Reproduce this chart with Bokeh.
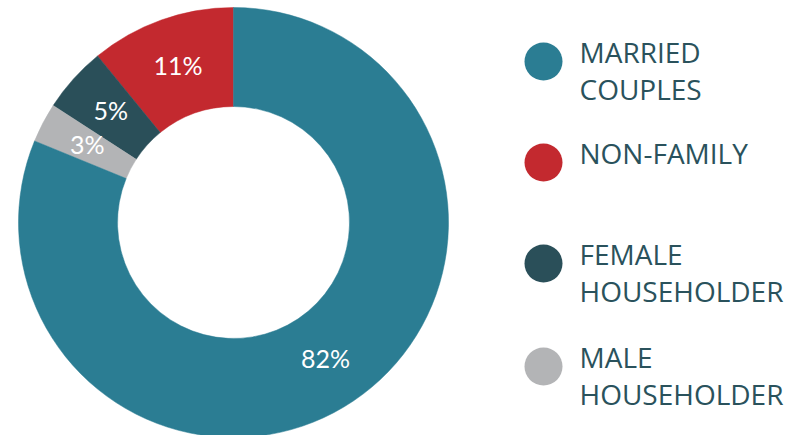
import math
from bokeh.plotting import figure
from bokeh.models import Range1d, ColumnDataSource
from bokeh.core.properties import value
from bokeh.embed import file_html
from bokeh.resources import INLINE

# Data (counter-clockwise from 12 o'clock)
categories = ["NON-FAMILY", "FEMALE HOUSEHOLDER", "MALE HOUSEHOLDER", "MARRIED COUPLES"]
shares = [11, 5, 3, 82]
colors = ["#c3292f", "#2a4f59", "#b3b4b6", "#2b7d93"]
pct_labels = ["11%", "5%", "3%", "82%"]

legend_order = ["MARRIED COUPLES", "NON-FAMILY", "FEMALE HOUSEHOLDER", "MALE HOUSEHOLDER"]
legend_lines = [["MARRIED", "COUPLES"], ["NON-FAMILY"], ["FEMALE", "HOUSEHOLDER"], ["MALE", "HOUSEHOLDER"]]

W, H = 806, 435
p = figure(width=W, height=H, output_backend="svg", toolbar_location=None,
           x_range=Range1d(0, W), y_range=Range1d(0, H), min_border=0)
p.axis.visible = False
p.grid.visible = False
p.outline_line_color = None
p.background_fill_color = "white"
p.border_fill_color = "white"

cx, cy = 233, 213
r_out, r_in, r_lab = 215, 116, 165
total = sum(shares)
starts, ends, lx, ly = [], [], [], []
cum = 0
for s in shares:
    a0 = math.pi / 2 + 2 * math.pi * cum / total
    cum += s
    a1 = math.pi / 2 + 2 * math.pi * cum / total
    starts.append(a0)
    ends.append(a1)
    m = (a0 + a1) / 2
    lx.append(cx + r_lab * math.cos(m))
    ly.append(cy + r_lab * math.sin(m) + 2)

src = ColumnDataSource(dict(start=starts, end=ends, color=colors, lx=lx, ly=ly, lab=pct_labels))
p.annular_wedge(x=cx, y=cy, inner_radius=r_in, outer_radius=r_out,
                start_angle="start", end_angle="end", direction="anticlock",
                fill_color="color", line_color="color", line_width=0.5, source=src)
p.text(x="lx", y="ly", text="lab", source=src, text_color="white",
       text_font=value("Lato"), text_font_size="25px",
       text_align="center", text_baseline="middle")

# Legend
leg_y = [374, 273, 172, 69]
leg_colors = [colors[categories.index(c)] for c in legend_order]
p.scatter(x=[543] * 4, y=leg_y, size=38, marker="circle",
          fill_color=leg_colors, line_color=None)
tx, ty, tt = [], [], []
for y, lines in zip(leg_y, legend_lines):
    for i, line in enumerate(lines):
        tx.append(579)
        ty.append(y + 10 - 37 * i)
        tt.append(line)
p.text(x=tx, y=ty, text=tt, text_color="#2a525c", text_font=value("Open Sans"),
       text_font_size="28px", text_align="left", text_baseline="alphabetic")

open("out.html", "w").write(file_html(p, INLINE))
